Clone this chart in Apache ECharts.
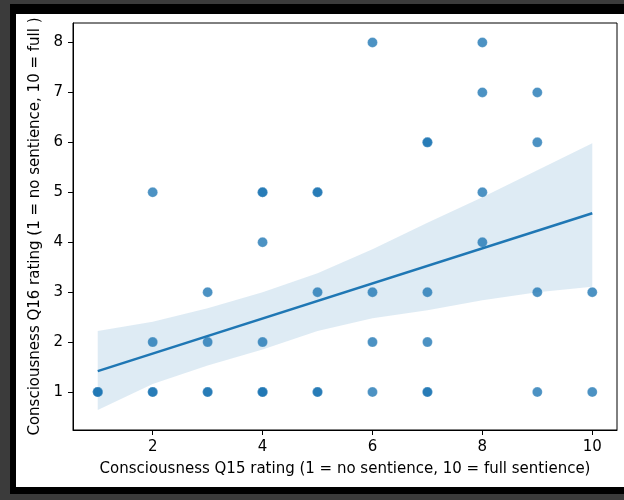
<!DOCTYPE html>
<html>
<head>
<meta charset="utf-8">
<script src="https://cdn.jsdelivr.net/npm/echarts@6/dist/echarts.min.js"></script>
<style>
  html, body { margin: 0; padding: 0; width: 624px; height: 500px; overflow: hidden; background: #3b3b3b; }
  #frame { position: absolute; left: 10px; top: 4px; width: 614px; height: 490px; background: #000; }
  #chart { position: absolute; left: 16px; top: 14px; width: 608px; height: 473px; background: #fff; }
</style>
</head>
<body>
<div id="frame"></div>
<div id="chart"></div>
<script>
// Scatter data (Q15 rating, Q16 rating); repeated pairs are overlapping responses
const q15 = [1,1,1, 2,2,2,2, 3,3,3,3, 4,4,4,4,4,4,4, 5,5,5,5,5, 6,6,6,6, 7,7,7,7,7,7, 8,8,8,8, 9,9,9,9, 10,10];
const q16 = [1,1,1, 5,2,1,1, 3,2,1,1, 5,5,4,2,1,1,1, 5,5,3,1,1, 8,3,2,1, 6,6,3,2,1,1, 8,7,5,4, 7,6,3,1, 3,1];

// Regression line endpoints
const fitX = [1, 10];
const fitY = [1.42, 4.58];

// Confidence band
const bandX  = [1, 2, 3, 4, 5, 6, 7, 8, 9, 10];
const ciLow  = [0.64, 1.16, 1.53, 1.85, 2.22, 2.48, 2.64, 2.84, 3.0, 3.11];
const ciHigh = [2.22, 2.41, 2.68, 3.0, 3.38, 3.86, 4.39, 4.9, 5.44, 5.98];

// Tick labels
const xTicks = [2, 4, 6, 8, 10];
const yTicks = [1, 2, 3, 4, 5, 6, 7, 8];

const FONT = 'DejaVu Sans';
const FS = 15;
const BLUE = '#1f77b4';

const chart = echarts.init(document.getElementById('chart'), null, { renderer: 'canvas' });

const scatterData = q15.map((x, i) => [x, q16[i]]);
const fitData = fitX.map((x, i) => [x, fitY[i]]);

chart.setOption({
  animation: false,
  backgroundColor: '#fff',
  grid: {
    left: 57, top: 9, right: 7, bottom: 57,
    show: true, borderColor: '#000', borderWidth: 1, backgroundColor: 'transparent'
  },
  xAxis: {
    type: 'value', min: 0.55, max: 10.45,
    name: 'Consciousness Q15 rating (1 = no sentience, 10 = full sentience)',
    nameLocation: 'middle', nameGap: 32,
    nameTextStyle: { fontFamily: FONT, fontSize: FS, color: '#000' },
    axisLine: { show: true, onZero: false, lineStyle: { color: '#000', width: 1 } },
    axisTick: { show: true, length: 5, lineStyle: { color: '#000', width: 1 }, customValues: xTicks },
    axisLabel: { fontFamily: FONT, fontSize: FS, color: '#000', margin: 10, customValues: xTicks,
                 formatter: v => String(Math.round(v)) },
    splitLine: { show: false }
  },
  yAxis: {
    type: 'value', min: 0.24, max: 8.39,
    name: 'Consciousness Q16 rating (1 = no sentience, 10 = full )',
    nameLocation: 'middle', nameGap: 29, nameRotate: 90,
    nameTextStyle: { fontFamily: FONT, fontSize: FS, color: '#000' },
    axisLine: { show: true, onZero: false, lineStyle: { color: '#000', width: 1 } },
    axisTick: { show: true, length: 5, lineStyle: { color: '#000', width: 1 }, customValues: yTicks },
    axisLabel: { fontFamily: FONT, fontSize: FS, color: '#000', margin: 10, customValues: yTicks,
                 formatter: v => String(Math.round(v)) },
    splitLine: { show: false }
  },
  series: [
    {
      type: 'scatter',
      data: scatterData,
      symbolSize: 10,
      z: 1,
      itemStyle: { color: BLUE, opacity: 0.8, borderColor: 'rgba(255,255,255,0.6)', borderWidth: 0.5 }
    },
    {
      type: 'custom',
      z: 2,
      data: [[bandX[0], ciLow[0]]],
      renderItem: function (params, api) {
        const pts = [];
        for (let i = 0; i < bandX.length; i++) pts.push(api.coord([bandX[i], ciHigh[i]]));
        for (let i = bandX.length - 1; i >= 0; i--) pts.push(api.coord([bandX[i], ciLow[i]]));
        return { type: 'polygon', shape: { points: pts }, style: { fill: 'rgba(31,119,180,0.15)', stroke: null } };
      }
    },
    {
      type: 'line',
      data: fitData,
      z: 3,
      symbol: 'none',
      lineStyle: { color: BLUE, width: 2.5 }
    }
  ]
});
</script>
</body>
</html>
